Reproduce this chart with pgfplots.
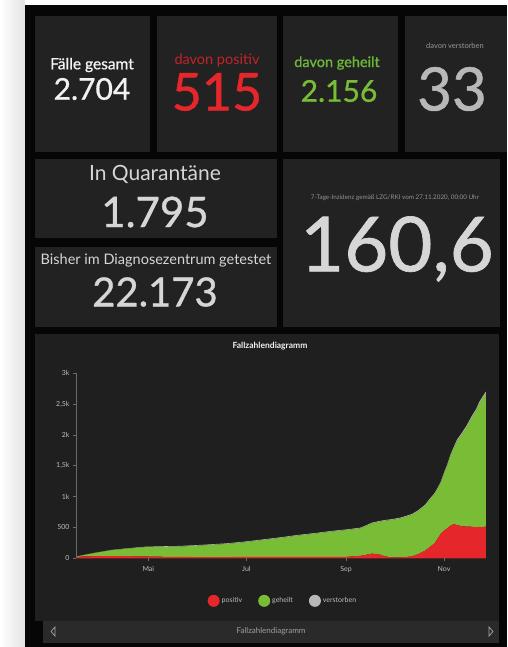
\documentclass[border=0pt]{standalone}
\usepackage{fontspec}
\setmainfont{Lato}
\newfontfamily\medfont{Lato}[FakeBold=0.9]
\usepackage{pgfplots}
\pgfplotsset{compat=1.18}
\usepackage{pgfplotstable}

\definecolor{outer}{HTML}{060606}
\definecolor{tile}{HTML}{222222}
\definecolor{panel}{HTML}{1F1F1F}
\definecolor{bar}{HTML}{2A2A2A}
\definecolor{posred}{HTML}{E5262A}
\definecolor{labred}{HTML}{C4232A}
\definecolor{healgreen}{HTML}{79BC36}
\definecolor{labgreen}{HTML}{6DB83A}
\definecolor{deadgray}{HTML}{B8B8B8}
\definecolor{softwhite}{HTML}{F2F2F2}
\definecolor{lightgray}{HTML}{D6D6D6}
\definecolor{axisgray}{HTML}{6A6A6A}
\definecolor{ticktext}{HTML}{BDBDBD}

% day of year 2020, positiv, geheilt, verstorben
\pgfplotstableread{
day pos heal dead
76  20  5    0
80  30  19   1
88  35  53   2
98  35  96   4
108 35  121  6
119 30  150  8
130 25  161  9
140 25  165  10
150 20  182  10
160 20  197  10
170 20  213  10
180 25  233  10
193 25  273  10
204 25  308  10
214 25  343  10
225 25  375  10
235 25  408  10
245 25  435  10
253 40  446  10
257 60  469  11
260 75  491  11
264 70  519  11
268 35  574  11
272 15  605  12
278 15  633  12
285 30  675  13
289 70  696  14
293 120 729  15
296 180 764  16
299 240 796  17
301 320 802  18
303 400 823  19
305 450 920  20
307 485 1014 21
309 530 1128 22
311 555 1222 23
313 540 1356 24
316 520 1484 26
319 515 1608 27
322 512 1754 29
325 505 1885 30
327 510 1997 31
329 505 2083 32
331 515 2156 33
}\cases

\begin{document}
\begin{tikzpicture}
\begin{scope}[x=1pt,y=-1pt,yshift=647pt]
  % page background and dashboard frame
  \shade[left color=white, right color=gray!22] (0,0) rectangle (25,647);
  \fill[white] (25,0) rectangle (507,5);
  \fill[outer] (25,5) rectangle (507,647);

  % top row tiles
  \fill[tile] (35,16) rectangle (150,152);
  \fill[tile] (157,16) rectangle (277,152);
  \fill[tile] (283,16) rectangle (398,152);
  \fill[tile] (405,16) rectangle (507,152);
  % second row
  \fill[tile] (35,159) rectangle (277,238);
  \fill[tile] (35,247) rectangle (277,327);
  \fill[tile] (283,159) rectangle (500,327);
  % chart panel
  \fill[panel] (35,334) rectangle (499,621);
  \fill[bar] (43,621) rectangle (499,643);

  % tile texts
  \node[text=softwhite, font=\medfont\fontsize{15.5}{18}\selectfont] at (92,65) {Fälle gesamt};
  \node[text=softwhite, font=\medfont\fontsize{30}{32}\selectfont] at (92,89) {2.704};
  \node[text=labred, font=\fontsize{14.5}{17}\selectfont] at (217,60) {davon positiv};
  \node[text=posred, font=\medfont\fontsize{52}{54}\selectfont] at (217,92) {515};
  \node[text=labgreen, font=\medfont\fontsize{14.5}{17}\selectfont] at (337,63) {davon geheilt};
  \node[text=healgreen, font=\medfont\fontsize{30}{32}\selectfont] at (339,91) {2.156};
  \node[text=gray!80, font=\fontsize{7.5}{9}\selectfont] at (455,46) {davon verstorben};
  \node[text=deadgray, font=\medfont\fontsize{60}{62}\selectfont] at (452,89) {33};

  \node[text=lightgray, font=\fontsize{21}{24}\selectfont] at (155,174) {In Quarantäne};
  \node[text=lightgray, font=\medfont\fontsize{42}{44}\selectfont] at (155,212) {1.795};
  \node[text=lightgray, font=\fontsize{14.5}{17}\selectfont] at (156,260) {Bisher im Diagnosezentrum getestet};
  \node[text=lightgray, font=\medfont\fontsize{40}{42}\selectfont] at (155,292) {22.173};

  \node[text=gray!85, font=\fontsize{6.3}{7}\selectfont] at (395,198) {7-Tage-Inzidenz gemäß LZG/RKI vom 27.11.2020, 00:00 Uhr};
  \node[text=lightgray, font=\medfont\fontsize{76}{78}\selectfont] at (397,249) {160,6};

  % chart header and footer
  \node[text=softwhite, font=\bfseries\fontsize{8.5}{10}\selectfont] at (270,346) {Fallzahlendiagramm};
  \node[text=gray!75, font=\fontsize{8}{9}\selectfont] at (271,631) {Fallzahlendiagramm};
  \draw[gray!70, line width=0.7pt] (55,627) -- (51,631.5) -- (55,636) -- cycle;
  \draw[gray!70, line width=0.7pt] (489,627) -- (493,631.5) -- (489,636) -- cycle;
\end{scope}

\begin{axis}[
    at={(76pt,88.7pt)}, anchor=south west,
    scale only axis, width=410.6pt, height=185pt,
    xmin=76, xmax=331.5, ymin=0, ymax=3000,
    stack plots=y, area style,
    axis x line*=bottom, axis y line*=left,
    x axis line style={draw=none},
    y axis line style={draw=axisgray, -},
    xtick={121,182,244,305}, xticklabels={Mai,Jul,Sep,Nov},
    xticklabel style={yshift=-2pt},
    ytick={0,500,1000,1500,2000,2500,3000},
    yticklabels={0,500,1k,{1,5k},2k,{2,5k},3k},
    tick align=outside, major tick length=3pt,
    tick style={draw=axisgray, line width=0.6pt},
    ticklabel style={font=\fontsize{7}{8}\selectfont, text=ticktext},
    /pgf/number format/assume math mode=true,
    legend columns=3,
    legend style={at={(0.504,-0.23)}, anchor=center, draw=none, fill=none,
        text=ticktext, font=\fontsize{7}{8}\selectfont,
        /tikz/every even column/.append style={column sep=14pt}},
]
\addplot[fill=posred, draw=none,
    legend image code/.code={\fill[posred] (2pt,0pt) circle (6pt);}]
    table[x=day, y=pos] {\cases} \closedcycle;
\addlegendentry{positiv}
\addplot[fill=healgreen, draw=none,
    legend image code/.code={\fill[healgreen] (2pt,0pt) circle (6pt);}]
    table[x=day, y=heal] {\cases} \closedcycle;
\addlegendentry{geheilt}
\addplot[fill=deadgray, draw=none,
    legend image code/.code={\fill[deadgray] (2pt,0pt) circle (6pt);}]
    table[x=day, y=dead] {\cases} \closedcycle;
\addlegendentry{verstorben}
\end{axis}
\end{tikzpicture}
\end{document}
